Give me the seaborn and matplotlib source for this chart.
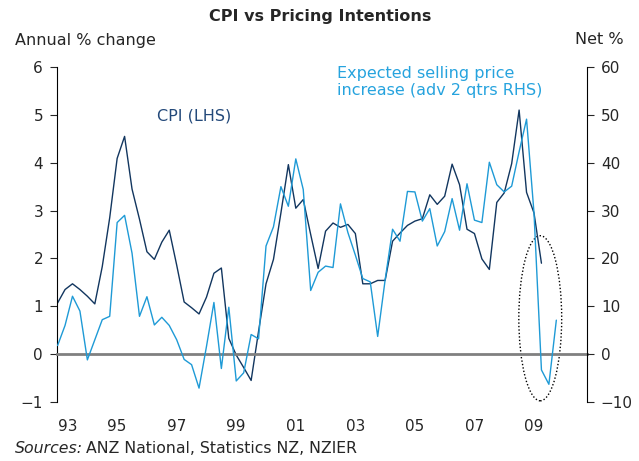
import numpy as np
import pandas as pd
import seaborn as sns
from matplotlib import pyplot as plt
from matplotlib.patches import Ellipse

# CPI annual % change, quarterly from 1993Q1 (LHS)
cpi = [1.07, 1.35, 1.47, 1.35, 1.21, 1.05, 1.83, 2.85, 4.09, 4.55,
       3.45, 2.82, 2.14, 1.98, 2.34, 2.59, 1.86, 1.09, 0.97, 0.84,
       1.19, 1.69, 1.80, 0.33, -0.02, -0.28, -0.55, 0.48, 1.47, 1.98,
       2.95, 3.96, 3.05, 3.23, 2.50, 1.79, 2.57, 2.74, 2.65, 2.71,
       2.52, 1.47, 1.47, 1.54, 1.54, 2.36, 2.53, 2.69, 2.78, 2.83,
       3.33, 3.13, 3.30, 3.97, 3.54, 2.61, 2.52, 1.99, 1.77, 3.17,
       3.37, 3.98, 5.10, 3.38, 2.95, 1.90]

# expected selling prices, net %, advanced 2 quarters (RHS)
pricing = [1.8, 6.0, 12.1, 9.0, -1.2, 3.0, 7.2, 7.9, 27.5, 29.0,
           21.1, 7.9, 12.0, 6.1, 7.7, 6.0, 3.0, -1.1, -2.2, -7.1,
           1.6, 10.8, -3.0, 9.8, -5.6, -3.9, 4.1, 3.2, 22.6, 26.6,
           35.0, 30.9, 40.8, 34.4, 13.3, 17.1, 18.4, 18.1, 31.4, 25.4,
           20.7, 15.8, 15.1, 3.7, 15.5, 26.1, 23.6, 34.0, 33.9, 27.8,
           30.4, 22.6, 25.6, 32.5, 25.9, 35.6, 28.0, 27.5, 40.1, 35.4,
           33.9, 35.1, 42.3, 49.1, 29.5, -3.3, -6.3, 7.1]

year_ticks = [1993, 1995, 1997, 1999, 2001, 2003, 2005, 2007, 2009]
year_labels = ['93', '95', '97', '99', '01', '03', '05', '07', '09']

quarters = pd.period_range('1993Q1', periods=len(pricing), freq='Q')
qpos = np.asarray(quarters.year + (quarters.quarter - 1) / 4, dtype=float)

df_cpi = pd.DataFrame({'date': qpos[:len(cpi)], 'cpi': cpi})
df_exp = pd.DataFrame({'date': qpos, 'pricing': pricing})

dark = '#12365f'
light = '#1e9ad6'

sns.set_style('white')
plt.rcParams['font.family'] = ['DejaVu Sans']
plt.rcParams['font.size'] = 11

fig = plt.figure(figsize=(6.39, 4.61), dpi=100)
ax = fig.add_axes([57 / 639, 1 - 402 / 461, 530 / 639, 335 / 461])
ax2 = ax.twinx()

sns.lineplot(data=df_cpi, x='date', y='cpi', ax=ax, color=dark, lw=1.0)
sns.lineplot(data=df_exp, x='date', y='pricing', ax=ax2, color=light, lw=1.0)

ax.set_xlim(1992.98, 2010.78)
ax.set_ylim(-1, 6)
ax2.set_ylim(-10, 60)
ax.set_yticks(range(-1, 7))
ax2.set_yticks(range(-10, 70, 10))

for a in (ax, ax2):
    a.set_xlabel('')
    a.set_ylabel('')
    a.spines['top'].set_visible(False)
ax.spines['right'].set_visible(False)
ax2.spines['left'].set_visible(False)
ax2.spines['bottom'].set_visible(False)
ax.spines['left'].set_color('black')
ax2.spines['right'].set_color('black')

# zero line acts as the x axis
ax.spines['bottom'].set_position(('data', 0))
ax.spines['bottom'].set_color('#808080')
ax.spines['bottom'].set_linewidth(2)
ax.set_xticks(year_ticks)
ax.tick_params(axis='x', direction='out', length=5, color='black', labelbottom=False)
ax.tick_params(axis='y', direction='out', length=5, left=True, pad=5, labelsize=11)
ax2.tick_params(axis='y', direction='out', length=5, right=True, pad=5, labelsize=11)

sec = ax.secondary_xaxis('bottom')
sec.set_xticks(year_ticks, year_labels)
sec.tick_params(length=0, pad=12, labelsize=11)
sec.spines['bottom'].set_visible(False)
sec.get_xticklabels()[0].set_horizontalalignment('left')

ax.text(1996.34, 4.98, 'CPI (LHS)', color='#23497a', ha='left', va='center', fontsize=11.5)
ax.text(2002.38, 5.69, 'Expected selling price\nincrease (adv 2 qtrs RHS)', color='#26a3de',
        ha='left', va='center', fontsize=11.5, linespacing=1.15)

ax.add_patch(Ellipse((2009.21, 0.75), 1.44, 3.45, fill=False, ls=(0, (1, 1.5)), lw=1.0,
                     edgecolor='black', clip_on=False))

fig.text(320 / 639, 1 - 17 / 461, 'CPI vs Pricing Intentions', ha='center', va='center',
         fontsize=11.5, fontweight='bold')
fig.text(15 / 639, 1 - 40 / 461, 'Annual % change', ha='left', va='center', fontsize=11.5)
fig.text(624 / 639, 1 - 40 / 461, 'Net %', ha='right', va='center', fontsize=11.5)
fig.text(15 / 639, 1 - 448 / 461, 'Sources:', ha='left', va='center', fontsize=11.3, style='italic')
fig.text(86 / 639, 1 - 448 / 461, 'ANZ National, Statistics NZ, NZIER', ha='left', va='center', fontsize=11.3)

fig.savefig('out.png', dpi=100)
